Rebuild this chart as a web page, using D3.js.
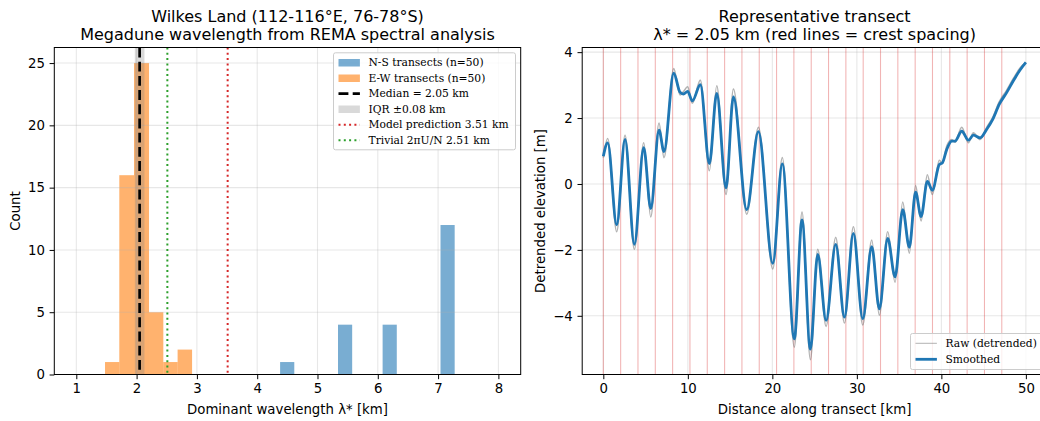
<!DOCTYPE html>
<html>
<head>
<meta charset="utf-8">
<script src="https://cdn.jsdelivr.net/npm/d3@7"></script>
<style>
  body { margin: 0; background: #fff; }
  svg { display: block; font-family: "DejaVu Sans", sans-serif; }
  .tick text { font-size: 13.3px; fill: #000; }
  .tick line { stroke: #000; }
  .grid line { stroke: #b0b0b0; stroke-opacity: 0.3; stroke-width: 1.07; }
  .title { font-size: 16px; text-anchor: middle; }
  .axisLabel { font-size: 13.3px; text-anchor: middle; }
  .legend text { font-family: "DejaVu Serif", serif; font-size: 10.7px; dominant-baseline: central; }
</style>
</head>
<body>
<script>
// ---- left panel: histogram data ----
const ewEdges = [1.476, 1.713, 1.957, 2.206, 2.443, 2.68, 2.92];
const ewCounts = [1, 16, 25, 5, 1, 2];
const nsLo = [4.38, 5.34, 6.08, 7.04];
const nsHi = [4.615, 5.575, 6.315, 7.275];
const nsCounts = [1, 4, 4, 12];
const median = 2.05;
const iqr = [1.97, 2.13];
const modelPred = 3.51;
const trivial = 2.51;
const histXTicks = [1, 2, 3, 4, 5, 6, 7, 8];
const histYTicks = [0, 5, 10, 15, 20, 25];

// ---- right panel: transect ----
const transX = [0, 0.52, 1.58, 2.57, 3.67, 4.78, 5.61, 6.59, 7.18, 8.33,
  9.08, 9.47, 9.98, 10.53, 11.48, 12.55, 13.42, 14.52, 15.39, 16.97,
  18.35, 20.05, 21.18, 22.6, 23.51, 24.5, 25.37, 26.36, 27.5, 28.53,
  29.59, 30.7, 31.76, 32.66, 33.65, 34.52, 35.43, 36.21, 36.95, 37.6,
  38.34, 38.93, 39.76, 40.12, 40.64, 41.23, 41.62, 42.41, 43.2, 43.79,
  44.58, 45.37, 46.08, 46.86, 47.74, 48.52, 49.31, 50];
const smoothY = [0.84, 1.25, -1.24, 1.35, -1.83, 1.10, -0.75, 1.63, 0.98, 3.36,
  2.78, 2.73, 2.81, 2.52, 3.01, 0.62, 2.75, -0.12, 2.64, -0.78,
  1.59, -2.41, 0.61, -4.70, -1.09, -5.01, -2.14, -4.14, -1.83, -4.04,
  -1.50, -4.09, -1.90, -3.79, -1.65, -2.82, -0.78, -1.92, -0.25, -0.99,
  0.08, -0.19, 0.59, 0.64, 1.05, 1.30, 1.30, 1.60, 1.33, 1.48,
  1.40, 1.66, 1.96, 2.42, 2.78, 3.13, 3.46, 3.69];
const rawY = [0.80, 1.38, -1.45, 1.48, -1.98, 1.25, -1.0, 1.85, 0.80, 3.50,
  2.70, 2.80, 2.95, 2.45, 3.15, 0.40, 2.98, -0.32, 2.88, -0.92,
  1.72, -2.58, 0.80, -4.95, -0.85, -5.33, -1.98, -4.32, -1.62, -4.22,
  -1.30, -4.28, -1.70, -3.98, -1.45, -2.98, -0.55, -2.10, -0.05, -1.12,
  0.28, -0.32, 0.72, 0.62, 1.15, 1.35, 1.27, 1.72, 1.25, 1.55,
  1.35, 1.72, 2.02, 2.50, 2.85, 3.20, 3.52, 3.69];
const crestX = [0, 2.05, 4.1, 6.15, 8.2, 10.25, 12.3, 14.35, 16.4, 18.45, 20.5, 22.55,
  24.6, 26.65, 28.7, 30.75, 32.8, 34.85, 36.9, 38.95, 41, 43.05, 45.1, 47.15];
const transXTicks = [0, 10, 20, 30, 40, 50];
const transYTicks = [-4, -2, 0, 2, 4];

const W = 1040, H = 421;
const plotTop = 47.5, plotBottom = 374.5;
const tickLen = 4.7, tickPad = 4.7;

const svg = d3.select("body").append("svg")
  .attr("width", W).attr("height", H);

function drawGrid(g, x, y, xt, yt, x0, x1) {
  g.append("g").attr("class", "grid")
    .selectAll("line").data(xt).enter().append("line")
    .attr("x1", d => x(d)).attr("x2", d => x(d))
    .attr("y1", plotTop).attr("y2", plotBottom);
  g.append("g").attr("class", "grid")
    .selectAll("line").data(yt).enter().append("line")
    .attr("x1", x0).attr("x2", x1)
    .attr("y1", d => y(d)).attr("y2", d => y(d));
}

function drawFrame(g, x, y, xt, yt, x0, x1) {
  g.append("rect")
    .attr("x", x0).attr("y", plotTop)
    .attr("width", x1 - x0).attr("height", plotBottom - plotTop)
    .attr("fill", "none").attr("stroke", "#000").attr("stroke-width", 1);
  const xa = g.append("g")
    .attr("transform", `translate(0,${plotBottom})`)
    .call(d3.axisBottom(x).tickValues(xt).tickSize(tickLen).tickPadding(tickPad).tickSizeOuter(0));
  xa.select(".domain").remove();
  const ya = g.append("g")
    .attr("transform", `translate(${x0},0)`)
    .call(d3.axisLeft(y).tickValues(yt).tickSize(tickLen).tickPadding(tickPad).tickSizeOuter(0));
  ya.select(".domain").remove();
  g.selectAll(".tick text").attr("font-family", "DejaVu Sans");
}

// ================= LEFT =================
const L0 = 54.3, L1 = 520.7;
const xh = d3.scaleLinear().domain([0.635, 8.37]).range([L0, L1]);
const yh = d3.scaleLinear().domain([0, 26.25]).range([plotBottom, plotTop]);
const gl = svg.append("g");

// bars
gl.append("g").selectAll("rect").data(nsCounts).enter().append("rect")
  .attr("x", (d, i) => xh(nsLo[i]))
  .attr("width", (d, i) => xh(nsHi[i]) - xh(nsLo[i]))
  .attr("y", d => yh(d)).attr("height", d => yh(0) - yh(d))
  .attr("fill", "#1f77b4").attr("fill-opacity", 0.6);
gl.append("g").selectAll("rect").data(ewCounts).enter().append("rect")
  .attr("x", (d, i) => xh(ewEdges[i]))
  .attr("width", (d, i) => xh(ewEdges[i + 1]) - xh(ewEdges[i]))
  .attr("y", d => yh(d)).attr("height", d => yh(0) - yh(d))
  .attr("fill", "#ff7f0e").attr("fill-opacity", 0.6);

drawGrid(gl, xh, yh, histXTicks, histYTicks, L0, L1);

// reference lines
gl.append("rect")
  .attr("x", xh(iqr[0])).attr("width", xh(iqr[1]) - xh(iqr[0]))
  .attr("y", plotTop).attr("height", plotBottom - plotTop)
  .attr("fill", "#808080").attr("fill-opacity", 0.3);
gl.append("line")
  .attr("x1", xh(median)).attr("x2", xh(median)).attr("y1", plotTop).attr("y2", plotBottom)
  .attr("stroke", "#000").attr("stroke-width", 2.67).attr("stroke-dasharray", "9.9,4.3");
gl.append("line")
  .attr("x1", xh(modelPred)).attr("x2", xh(modelPred)).attr("y1", plotTop).attr("y2", plotBottom)
  .attr("stroke", "#d62728").attr("stroke-width", 2).attr("stroke-dasharray", "2,3.3");
gl.append("line")
  .attr("x1", xh(trivial)).attr("x2", xh(trivial)).attr("y1", plotTop).attr("y2", plotBottom)
  .attr("stroke", "#2ca02c").attr("stroke-width", 2).attr("stroke-dasharray", "2,3.3");

drawFrame(gl, xh, yh, histXTicks, histYTicks, L0, L1);

gl.append("text").attr("class", "title").attr("x", (L0 + L1) / 2).attr("y", 21.5)
  .text("Wilkes Land (112-116°E, 76-78°S)");
gl.append("text").attr("class", "title").attr("x", (L0 + L1) / 2).attr("y", 39.5)
  .text("Megadune wavelength from REMA spectral analysis");
gl.append("text").attr("class", "axisLabel").attr("x", (L0 + L1) / 2).attr("y", 413.5)
  .text("Dominant wavelength λ* [km]");
gl.append("text").attr("class", "axisLabel")
  .attr("transform", `translate(20,${(plotTop + plotBottom) / 2}) rotate(-90)`)
  .text("Count");

// legend left
const legL = [
  {label: "N-S transects (n=50)", type: "patch", color: "#1f77b4", op: 0.6},
  {label: "E-W transects (n=50)", type: "patch", color: "#ff7f0e", op: 0.6},
  {label: "Median = 2.05 km", type: "line", color: "#000", dash: "9.9,4.3", w: 2.67},
  {label: "IQR ±0.08 km", type: "patch", color: "#808080", op: 0.3},
  {label: "Model prediction 3.51 km", type: "line", color: "#d62728", dash: "2,3.3", w: 2},
  {label: "Trivial 2πU/N 2.51 km", type: "line", color: "#2ca02c", dash: "2,3.3", w: 2}
];
function legend(g, items, hx, y0, step, frame) {
  const lg = g.append("g").attr("class", "legend");
  lg.append("rect")
    .attr("x", frame[0]).attr("y", frame[1])
    .attr("width", frame[2]).attr("height", frame[3])
    .attr("rx", 2).attr("fill", "#fff").attr("fill-opacity", 0.8)
    .attr("stroke", "#cccccc").attr("stroke-width", 1);
  items.forEach((it, i) => {
    const cy = y0 + i * step;
    if (it.type === "patch") {
      lg.append("rect").attr("x", hx).attr("y", cy - 3.7).attr("width", 21.4).attr("height", 7.5)
        .attr("fill", it.color).attr("fill-opacity", it.op);
    } else {
      lg.append("line").attr("x1", hx).attr("x2", hx + 21.4).attr("y1", cy).attr("y2", cy)
        .attr("stroke", it.color).attr("stroke-width", it.w)
        .attr("stroke-dasharray", it.dash || null)
        .attr("stroke-opacity", it.op || 1);
    }
    lg.append("text").attr("x", hx + 30).attr("y", cy).text(it.label);
  });
}
legend(gl, legL, 338.5, 62.7, 15.5, [333.5, 52.8, 182, 97]);

// ================= RIGHT =================
const R0 = 582.2, R1 = 1047;
const xt = d3.scaleLinear().domain([-2.5, 52.5]).range([R0, R1]);
const yt = d3.scaleLinear().domain([-5.781, 4.141]).range([plotBottom, plotTop]);
const gr = svg.append("g");

drawGrid(gr, xt, yt, transXTicks, transYTicks, R0, R1);

gr.append("g").selectAll("line").data(crestX).enter().append("line")
  .attr("x1", d => xt(d)).attr("x2", d => xt(d))
  .attr("y1", plotTop).attr("y2", plotBottom)
  .attr("stroke", "#d62728").attr("stroke-opacity", 0.35).attr("stroke-width", 1.07);

const pts = transX.map((d, i) => ({x: d, raw: rawY[i], sm: smoothY[i]}));
gr.append("path").datum(pts)
  .attr("d", d3.line().x(d => xt(d.x)).y(d => yt(d.raw)).curve(d3.curveMonotoneX))
  .attr("fill", "none").attr("stroke", "#808080").attr("stroke-opacity", 0.6)
  .attr("stroke-width", 1.6);
gr.append("path").datum(pts)
  .attr("d", d3.line().x(d => xt(d.x)).y(d => yt(d.sm)).curve(d3.curveMonotoneX))
  .attr("fill", "none").attr("stroke", "#1f77b4").attr("stroke-width", 2.8);

drawFrame(gr, xt, yt, transXTicks, transYTicks, R0, R1);

gr.append("text").attr("class", "title").attr("x", (R0 + R1) / 2).attr("y", 21.5)
  .text("Representative transect");
gr.append("text").attr("class", "title").attr("x", (R0 + R1) / 2).attr("y", 39.5)
  .text("λ* = 2.05 km (red lines = crest spacing)");
gr.append("text").attr("class", "axisLabel").attr("x", (R0 + R1) / 2).attr("y", 413.5)
  .text("Distance along transect [km]");
gr.append("text").attr("class", "axisLabel")
  .attr("transform", `translate(545,${(plotTop + plotBottom) / 2}) rotate(-90)`)
  .text("Detrended elevation [m]");

const legR = [
  {label: "Raw (detrended)", type: "line", color: "#808080", w: 1, op: 0.6},
  {label: "Smoothed", type: "line", color: "#1f77b4", w: 2.8}
];
legend(gr, legR, 915.5, 343.3, 16, [910.5, 333.5, 140, 36]);
</script>
</body>
</html>
